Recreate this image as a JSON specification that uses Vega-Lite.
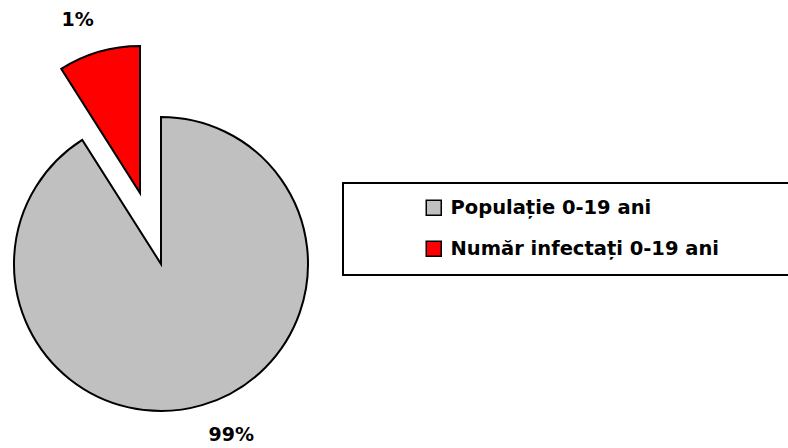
{
  "$schema": "https://vega.github.io/schema/vega-lite/v6.json",
  "width": 320,
  "height": 320,
  "autosize": {"type": "none"},
  "padding": {"left": 1, "top": 104, "right": 467, "bottom": 24},
  "background": "white",
  "config": {
    "view": {"stroke": null},
    "legend": {"strokeWidth": 2}
  },
  "data": {
    "values": [
      {"category": "Populație 0-19 ani", "value": 91, "label": "99%"},
      {"category": "Număr infectați 0-19 ani", "value": 9, "label": "1%"}
    ]
  },
  "transform": [
    {"stack": "value", "groupby": [], "sort": [{"field": "category", "order": "descending"}], "as": ["v0", "v1"]}
  ],
  "layer": [
    {
      "transform": [{"filter": "datum.category === 'Populație 0-19 ani'"}],
      "mark": {"type": "arc", "radius": 147, "stroke": "black", "strokeWidth": 2},
      "encoding": {
        "theta": {"field": "v0", "type": "quantitative", "stack": null, "scale": {"domain": [0, 100]}},
        "theta2": {"field": "v1"},
        "color": {
          "field": "category",
          "type": "nominal",
          "scale": {"domain": ["Populație 0-19 ani", "Număr infectați 0-19 ani"], "range": ["#c0c0c0", "#ff0000"]},
          "legend": {
            "title": null,
            "orient": "none",
            "legendX": 342,
            "legendY": 79,
            "direction": "vertical",
            "padding": 15,
            "rowPadding": 19,
            "symbolType": "square",
            "symbolSize": 225,
            "symbolStrokeColor": "black",
            "symbolStrokeWidth": 1.5,
            "symbolOpacity": 1,
            "symbolOffset": 66,
            "labelOffset": 7,
            "labelFont": "DejaVu Sans",
            "labelFontSize": 19.5,
            "labelFontWeight": "bold",
            "labelColor": "black",
            "labelLimit": 900,
            "labelExpr": "datum.label + '\u2800\u2800\u2800\u2800'",
            "strokeColor": "black",
            "fillColor": "white"
          }
        }
      }
    },
    {
      "transform": [{"filter": "datum.category === 'Număr infectați 0-19 ani'"}],
      "mark": {"type": "arc", "radius": 147, "stroke": "black", "strokeWidth": 2, "xOffset": -21, "yOffset": -71},
      "encoding": {
        "theta": {"field": "v0", "type": "quantitative", "stack": null, "scale": {"domain": [0, 100]}},
        "theta2": {"field": "v1"},
        "color": {"field": "category", "type": "nominal"}
      }
    },
    {
      "mark": {"type": "text", "radius": 184, "font": "DejaVu Sans", "fontSize": 19, "fontWeight": "bold", "color": "black", "dx": 19, "dy": -6},
      "encoding": {
        "theta": {"field": "value", "type": "quantitative", "stack": true},
        "order": {"field": "category", "sort": "descending"},
        "text": {"field": "label"},
        "opacity": {"condition": {"test": "datum.category === 'Populație 0-19 ani'", "value": 1}, "value": 0}
      }
    },
    {
      "mark": {"type": "text", "radius": 184, "font": "DejaVu Sans", "fontSize": 19, "fontWeight": "bold", "color": "black", "xOffset": -21, "yOffset": -71, "dx": -11, "dy": 4},
      "encoding": {
        "theta": {"field": "value", "type": "quantitative", "stack": true},
        "order": {"field": "category", "sort": "descending"},
        "text": {"field": "label"},
        "opacity": {"condition": {"test": "datum.category === 'Număr infectați 0-19 ani'", "value": 1}, "value": 0}
      }
    }
  ]
}
